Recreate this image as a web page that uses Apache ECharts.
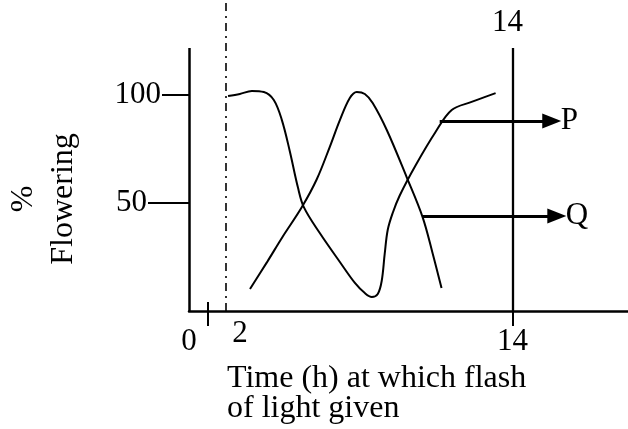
<!DOCTYPE html>
<html>
<head>
<meta charset="utf-8">
<script src="https://cdn.jsdelivr.net/npm/echarts@6/dist/echarts.min.js"></script>
<style>
html, body { margin: 0; padding: 0; background: #fff; }
#chart { width: 628px; height: 429px; }
</style>
</head>
<body>
<div id="chart"></div>
<script>
// curve P: high after early flash, falls, then climbs back
var curveP = [
  [1.69, 99.5], [2.2, 100.5], [2.72, 101.9], [3.24, 101.4], [3.67, 97.7],
  [4.02, 88.4], [4.36, 74.1], [4.71, 57.4], [4.97, 48.1], [5.66, 36.1],
  [6.53, 22.7], [7.18, 13.0], [7.61, 8.3], [7.91, 6.5], [8.17, 7.9],
  [8.34, 13.9], [8.47, 26.4], [8.6, 37.5], [8.82, 45.5], [9.12, 53.5],
  [9.81, 67.5], [10.67, 82.9], [11.37, 93.1], [12.23, 96.8], [13.27, 100.9]
];
// curve Q: rises to a peak then falls
var curveQ = [
  [2.64, 10.2], [3.37, 22.5], [4.06, 34.5], [4.88, 48.0], [5.53, 61.0],
  [6.09, 75.9], [6.53, 88.4], [6.96, 98.6], [7.26, 101.4], [7.61, 100.5],
  [7.95, 96.3], [8.56, 83.8], [9.42, 62.0], [10.11, 43.5], [10.54, 26.9],
  [10.93, 10.6]
];
var xTickValues = [0.82, 14];
var xLabelValues = [0, 14];
var yTop = [100];
var yMid = [50];
var flashTime = 1.6;
var flashLabel = '2';
var darkEnd = 14;
var axisTop = 121.8;
var arrowP = [[10.85, 88], [15.7, 88]];
var arrowQ = [[10.11, 44], [15.92, 44]];

var font = '"Liberation Serif", "Times New Roman", serif';
var black = '#000';

var myChart = echarts.init(document.getElementById('chart'));

function lbl(text, extra) {
  var o = { show: true, formatter: text, color: black, fontFamily: font, fontSize: 31 };
  for (var k in extra) o[k] = extra[k];
  return o;
}

var option = {
  animation: false,
  title: {
    text: 'Time (h) at which flash\nof light given',
    left: 222,
    top: 359,
    textStyle: { fontFamily: font, fontSize: 32, fontWeight: 'normal', color: black, lineHeight: 30 }
  },
  graphic: [{
    type: 'text',
    x: 44,
    y: 199,
    rotation: Math.PI / 2,
    style: {
      text: '%\nFlowering',
      font: '32px "Liberation Serif", serif',
      fill: black,
      align: 'center',
      verticalAlign: 'middle',
      lineHeight: 40
    }
  }],
  grid: { left: 189, right: 0, top: 0, bottom: 118, outerBoundsMode: 'none' },
  xAxis: [{
    type: 'value', min: 0, max: 19, position: 'bottom',
    axisLine: { show: true, onZero: false, lineStyle: { color: black, width: 2.5 } },
    axisTick: { show: true, customValues: xTickValues, length: 15, lineStyle: { color: black, width: 2 } },
    axisLabel: { customValues: xLabelValues, margin: 15, color: black, fontFamily: font, fontSize: 31 },
    splitLine: { show: false }
  }, {
    type: 'value', min: 0, max: 19, position: 'bottom',
    axisLine: { show: false, onZero: false },
    axisTick: { show: true, customValues: [0.82], inside: true, length: 9, lineStyle: { color: black, width: 2 } },
    axisLabel: { show: false },
    splitLine: { show: false }
  }],
  yAxis: [{
    type: 'value', min: 0, max: 144, position: 'left',
    axisLine: { show: false },
    axisTick: { show: true, customValues: yTop, length: 27, lineStyle: { color: black, width: 2 } },
    axisLabel: { customValues: yTop, margin: 28, color: black, fontFamily: font, fontSize: 31 },
    splitLine: { show: false }
  }, {
    type: 'value', min: 0, max: 144, position: 'left',
    axisLine: { show: false },
    axisTick: { show: true, customValues: yMid, length: 41, lineStyle: { color: black, width: 2 } },
    axisLabel: { customValues: yMid, margin: 42, color: black, fontFamily: font, fontSize: 31 },
    splitLine: { show: false }
  }],
  series: [{
    name: 'P',
    type: 'line',
    data: curveP,
    smooth: 0.35,
    symbol: 'none',
    lineStyle: { color: black, width: 2 },
    markLine: {
      silent: true,
      symbol: ['none', 'none'],
      label: { show: false },
      data: [
        // y axis line
        [{ coord: [0, 0], lineStyle: { color: black, width: 2.5, type: 'solid' } }, { coord: [0, axisTop] }],
        // end of dark period
        [{ coord: [darkEnd, 0], lineStyle: { color: black, width: 2.3, type: 'solid' },
           label: lbl('14', { position: 'end', distance: 10, offset: [-5, 0] }) },
         { coord: [darkEnd, axisTop] }],
        // flash time
        [{ coord: [flashTime, 0], lineStyle: { color: black, width: 1.6, type: [8, 5, 2, 5] },
           label: lbl(flashLabel, { position: 'start', distance: 7, offset: [14, 0] }) },
         { coord: [flashTime, 144] }],
        // arrows
        [{ coord: arrowP[0], symbol: 'none', lineStyle: { color: black, width: 3, type: 'solid' },
           label: lbl('P', { position: 'end', distance: 9 }) },
         { coord: arrowP[1], symbol: 'triangle', symbolSize: [15, 19] }],
        [{ coord: arrowQ[0], symbol: 'none', lineStyle: { color: black, width: 3, type: 'solid' },
           label: lbl('Q', { position: 'end', distance: 9 }) },
         { coord: arrowQ[1], symbol: 'triangle', symbolSize: [15, 19] }]
      ]
    }
  }, {
    name: 'Q',
    type: 'line',
    data: curveQ,
    smooth: 0.35,
    symbol: 'none',
    lineStyle: { color: black, width: 2 }
  }]
};

myChart.setOption(option);
</script>
</body>
</html>
